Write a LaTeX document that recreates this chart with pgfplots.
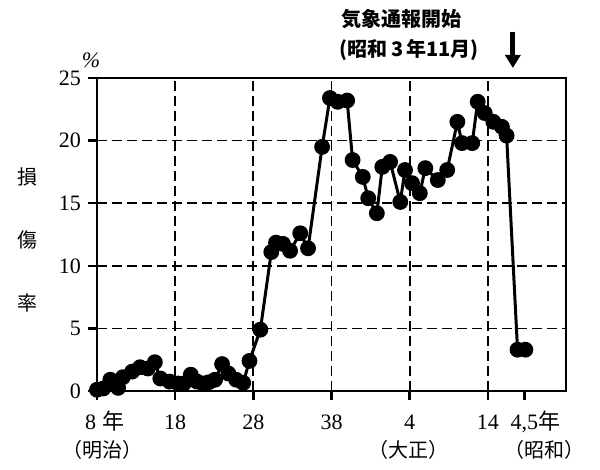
\documentclass[border=0pt]{standalone}
\usepackage{fontspec}
\setmainfont{Liberation Serif}
\newfontfamily\cjk{Noto Sans CJK JP}
\usepackage{pgfplots}
\usepackage{pgfplotstable}
\pgfplotsset{compat=1.18}
\usetikzlibrary{arrows.meta}

\pgfplotstableread{
x y
1875.0 0.1
1875.8 0.2
1876.7 0.9
1877.7 0.25
1878.3 1.1
1879.5 1.55
1880.5 1.9
1881.5 1.8
1882.4 2.3
1883.1 1.0
1884.3 0.75
1885.4 0.6
1886.1 0.6
1887.0 1.3
1887.8 0.75
1888.6 0.6
1889.3 0.7
1890.1 0.9
1891.0 2.15
1891.8 1.4
1892.8 0.9
1893.7 0.65
1894.5 2.4
1895.9 4.9
1897.3 11.1
1897.9 11.85
1898.8 11.75
1899.7 11.2
1901.0 12.6
1902.0 11.4
1903.8 19.5
1904.8 23.4
1905.8 23.1
1907.0 23.2
1907.7 18.45
1909.0 17.1
1909.7 15.4
1910.8 14.2
1911.5 17.9
1912.5 18.3
1913.8 15.1
1914.4 17.65
1915.3 16.6
1916.3 15.8
1917.0 17.8
1918.6 16.85
1919.8 17.65
1921.1 21.5
1921.7 19.8
1923.0 19.8
1923.7 23.1
1924.6 22.2
1925.7 21.5
1926.8 21.1
1927.4 20.4
1928.8 3.3
1929.8 3.3
}\damage

\begin{document}
\begin{tikzpicture}
\begin{axis}[
  scale only axis,
  width=234.5pt, height=156.5pt,
  xmin=1875, xmax=1935, ymin=0, ymax=25,
  axis line style={line width=1.2pt},
  xtick={1875,1885,1895,1905,1915,1925},
  xticklabels={{\makebox[0pt][l]{\hspace*{-6pt}8\hspace{3pt}{\cjk 年}}},18,28,38,4,14},
  extra x ticks={1929.7},
  extra x tick labels={{\makebox[0pt][l]{\hspace*{-7pt}4,5{\cjk 年}}}},
  extra x tick style={grid=none},
  ytick={0,5,...,25},
  grid=major,
  major grid style={black, line width=0.9pt, dash pattern=on 5pt off 2.5pt},
  tick align=outside, tick pos=left,
  major tick length=4.5pt,
  tick style={black, line width=1.2pt},
  ticklabel style={font=\fontsize{11}{12}\selectfont},
  xticklabel style={text height=8pt, text depth=2pt, yshift=-3pt},
  clip=false,
  /pgf/number format/assume math mode=true,
]
\addplot[black, line width=1.5pt, mark=*, mark size=3.2pt, mark options={solid, fill=black}]
  table[x=x, y=y]{\damage};

\node[font={\fontsize{11}{12}\selectfont\itshape}] at (axis cs:1875,25) [xshift=-3pt, yshift=9pt] {\%};

\node[font={\cjk\fontsize{10}{12}\selectfont}] at (axis cs:1875,17.1) [xshift=-34.5pt] {損};
\node[font={\cjk\fontsize{10}{12}\selectfont}] at (axis cs:1875,12.06) [xshift=-34.5pt] {傷};
\node[font={\cjk\fontsize{10}{12}\selectfont}] at (axis cs:1875,7.03) [xshift=-34.5pt] {率};

\node[font={\cjk\fontsize{10}{12}\selectfont}] at (axis cs:1875.64,0) [yshift=-29.5pt] {（明治）};
\node[font={\cjk\fontsize{10}{12}\selectfont}] at (axis cs:1914.8,0) [yshift=-29.5pt] {（大正）};
\node[font={\cjk\fontsize{10}{12}\selectfont}] at (axis cs:1932.2,0) [yshift=-29.5pt] {（昭和）};

\node[font={\cjk\bfseries\fontsize{10}{12}\selectfont}, anchor=west, inner sep=0pt] at (axis cs:1906.2,29.7) {気象通報開始};
\node[font={\cjk\bfseries\fontsize{10}{12}\selectfont}, anchor=west, inner sep=0pt] at (axis cs:1906.0,27.2) {(昭和\,3\,年11月)};

\draw[line width=2.5pt, -{Triangle[width=7.5pt,length=6.5pt]}] (axis cs:1928.2,28.7) -- (axis cs:1928.2,25.8);
\end{axis}
\pgfresetboundingbox
\path ([shift={(-48.5pt,-39pt)}]current axis.south west) rectangle ([shift={(17pt,39pt)}]current axis.north east);
\end{tikzpicture}
\end{document}
